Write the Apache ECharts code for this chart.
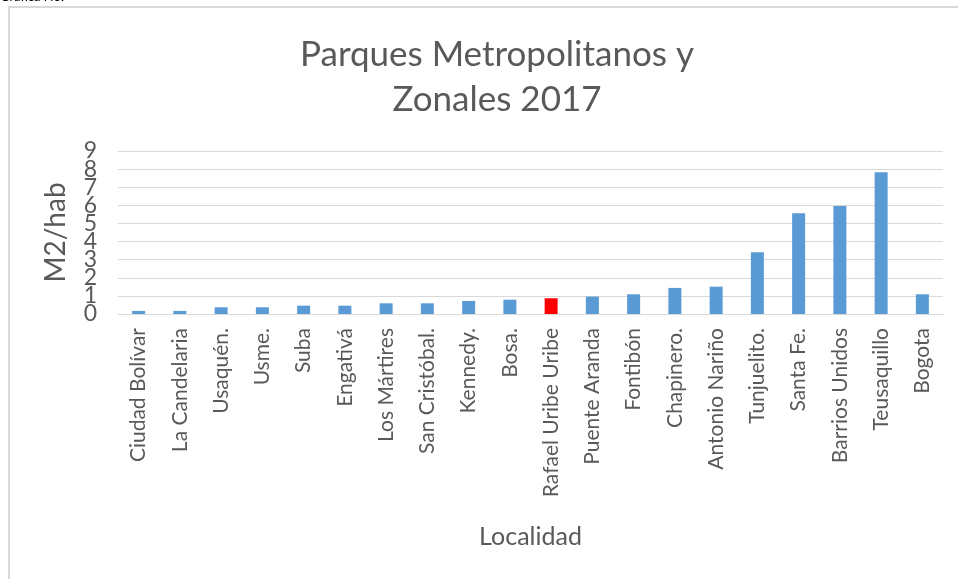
<!DOCTYPE html>
<html>
<head>
<meta charset="utf-8">
<script src="https://cdn.jsdelivr.net/npm/echarts@6/dist/echarts.min.js"></script>
<style>
  html, body { margin: 0; padding: 0; background: #fff; }
  #chart { width: 958px; height: 579px; }
</style>
</head>
<body>
<div id="chart"></div>
<script>
const localidades = ['Ciudad Bolívar', 'La Candelaria', 'Usaquén.', 'Usme.', 'Suba', 'Engativá', 'Los Mártires',
  'San Cristóbal.', 'Kennedy.', 'Bosa.', 'Rafael Uribe Uribe', 'Puente Aranda', 'Fontibón', 'Chapinero.',
  'Antonio Nariño', 'Tunjuelito.', 'Santa Fe.', 'Barrios Unidos', 'Teusaquillo', 'Bogota']
const m2hab = [0.17, 0.17, 0.37, 0.37, 0.46, 0.46, 0.59, 0.59, 0.72, 0.79, 0.87, 0.96, 1.09, 1.44, 1.51,
  3.41, 5.56, 5.97, 7.83, 1.09]
const highlight = 'Rafael Uribe Uribe'
const yTicks = ['0', '1', '2', '3', '4', '5', '6', '7', '8', '9']

const textColor = '#595959'
const font = 'Lato, "Open Sans", sans-serif'

let myChart = echarts.init(document.getElementById('chart'))
let option = {
  animation: false,
  textStyle: { fontFamily: font },
  title: {
    text: 'Parques Metropolitanos y\nZonales 2017',
    left: 492,
    top: 27,
    textAlign: 'center',
    textStyle: { fontSize: 35, fontWeight: 'normal', color: textColor, lineHeight: 45, fontFamily: font },
  },
  graphic: [
    {
      type: 'rect',
      shape: { x: 9, y: 7, width: 960, height: 600 },
      style: { fill: 'none', stroke: '#d9d9d9', lineWidth: 2 },
      silent: true,
    },
    {
      type: 'text',
      left: 0,
      top: -10,
      style: { text: 'Gráfica No.', fontSize: 13, fill: '#000', fontFamily: font },
    },
  ],
  grid: { left: 118, right: 15, top: 151, bottom: 265 },
  xAxis: {
    type: 'category',
    data: localidades,
    name: 'Localidad',
    nameLocation: 'middle',
    nameGap: 210,
    nameTextStyle: { fontSize: 25, color: textColor },
    axisLine: { lineStyle: { color: '#d9d9d9' } },
    axisTick: { show: false },
    axisLabel: { rotate: 90, fontSize: 21, color: textColor, margin: 14, interval: 0 },
  },
  yAxis: [
    {
      // value scale for the bars; its own labels are replaced by the tick axis below
      type: 'value',
      min: Number(yTicks[0]),
      max: Number(yTicks[yTicks.length - 1]),
      interval: 1,
      name: 'M2/hab',
      nameLocation: 'middle',
      nameGap: 48,
      nameTextStyle: { fontSize: 28, color: textColor },
      axisLabel: { show: false },
      splitLine: { lineStyle: { color: '#d9d9d9' } },
    },
    {
      // tick labels, so that the tightly packed digits are all kept
      type: 'category',
      position: 'left',
      data: yTicks,
      boundaryGap: false,
      axisLine: { show: false },
      axisTick: { show: false },
      splitLine: { show: false },
      axisLabel: { interval: 0, fontSize: 23, color: textColor, margin: 21 },
    },
  ],
  series: [
    {
      type: 'bar',
      yAxisIndex: 0,
      barWidth: 13,
      data: localidades.map((name, i) => ({
        value: m2hab[i],
        itemStyle: { color: name === highlight ? '#ff0000' : '#5b9bd5' },
      })),
    },
  ],
}
myChart.setOption(option)
</script>
</body>
</html>
